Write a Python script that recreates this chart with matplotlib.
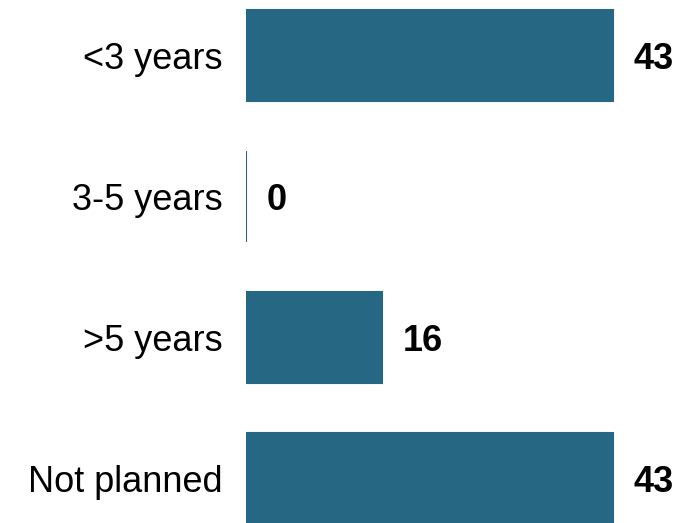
import matplotlib
matplotlib.use('Agg')
import matplotlib.pyplot as plt
from matplotlib import font_manager

categories = ['<3 years', '3-5 years', '>5 years', 'Not planned']
values = [43, 0, 16, 43]

names = set(f.name for f in font_manager.fontManager.ttflist)
fam = 'Liberation Sans Narrow' if 'Liberation Sans Narrow' in names else 'Liberation Sans'
fsize = 32 if fam == 'Liberation Sans Narrow' else 26
plt.rcParams['font.family'] = [fam, 'DejaVu Sans']

bar_color = '#266884'
px_per_unit = 8.53   # pixels per value unit
W, H = 681, 523
x0 = 246             # pixel where value 0 sits
step = 141           # pixels between bar centres
top = 55.5           # centre of first bar, pixels from top

fig = plt.figure(figsize=(W / 100, H / 100), dpi=100)
ax = fig.add_axes([x0 / W, 0, (W - x0) / W, 1])
ax.set_xlim(0, (W - x0) / px_per_unit)
ax.set_ylim((H - top) / step, -top / step)

ypos = list(range(len(categories)))
ax.barh(ypos, values, height=0.65, color=bar_color, edgecolor=bar_color, linewidth=1.5)

# labels sit a touch low in the original
for y, v in zip(ypos, values):
    ax.text(v + 2.4, y + 0.025, str(v), va='center', ha='left', fontsize=fsize,
            fontweight='bold', color='black')

ax.set_yticks(ypos)
ax.set_yticklabels(categories, fontsize=fsize)
ax.tick_params(axis='y', length=0, pad=17)
ax.set_xticks([])
for s in ax.spines.values():
    s.set_visible(False)

fig.savefig('out.png', dpi=100)
